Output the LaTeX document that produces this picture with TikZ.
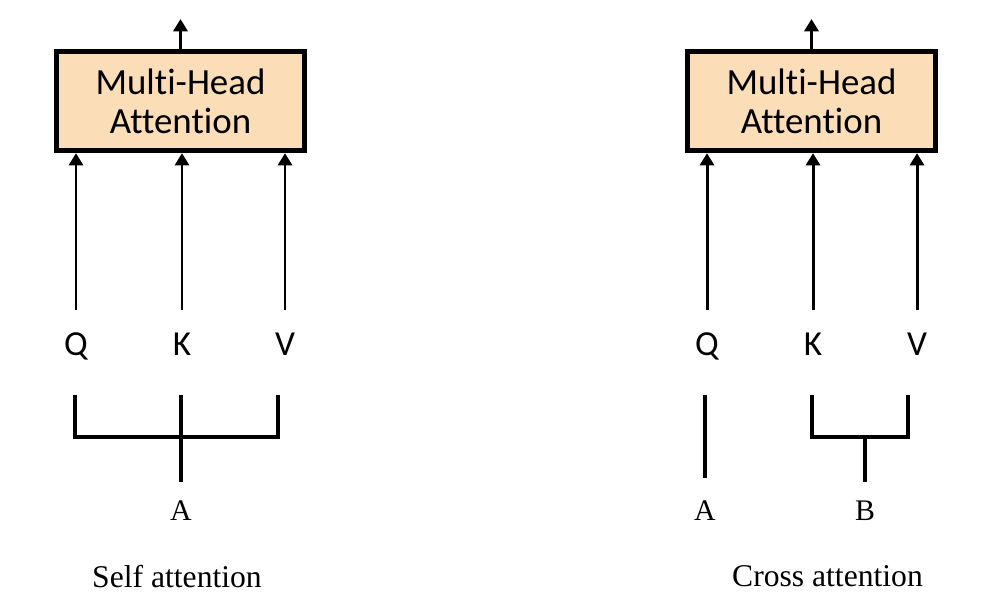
\documentclass[tikz,border=0pt]{standalone}
\usepackage{fontspec}
\setmainfont{Liberation Serif}
\newfontfamily\calibri[Ligatures=NoCommon]{Carlito}
\usepackage{tikz}
\usetikzlibrary{arrows.meta,positioning}
\definecolor{mhafill}{RGB}{251,221,184}

\begin{document}
\begin{tikzpicture}[
  x=0.02cm, y=-0.02cm,
  mha/.style={draw, line width=3pt, fill=mhafill, minimum width=4.96cm, minimum height=1.98cm,
    align=center, font=\calibri\fontsize{21}{22}\selectfont},
  qkv/.style={inner sep=0pt, anchor=base, font=\calibri\fontsize{20}{22}\selectfont},
  src/.style={inner sep=0pt, anchor=base, font=\fontsize{17}{19}\selectfont},
  caption/.style={inner sep=0pt, anchor=base, font=\fontsize{18}{20}\selectfont},
  flow/.style={-{Triangle[width=8pt,length=7pt]}, line width=1.7pt},
  bracket/.style={line width=2.6pt}
]
\useasboundingbox (0,0) rectangle (982,612);

% self attention
\node[mha] (mhaL) at (180.5,101) {Multi-Head\\Attention};
\coordinate (outL) at (180.5,19);
\draw[flow] (mhaL.north) -- (outL);
\node[qkv] (qL) at (76,355) {Q};
\node[qkv] (kL) at (182,355) {K};
\node[qkv] (vL) at (285,355) {V};
\foreach \n in {qL,kL,vL}
  \draw[flow] (\n.north) ++(0,-22) -- (\n |- mhaL.south);
\node[src] (aL) at (181,520) {A};
\draw[bracket] (75,395) -- (75,437) -- (278,437) -- (278,395);
\draw[bracket] (aL.north) ++(0,-18) -- (181,395);
\node[caption] (capL) at (177,587) {Self attention};

% cross attention
\node[mha] (mhaR) at (811.5,101) {Multi-Head\\Attention};
\coordinate (outR) at (811.5,19);
\draw[flow] (mhaR.north) -- (outR);
\node[qkv] (qR) at (707,355) {Q};
\node[qkv] (kR) at (813,355) {K};
\node[qkv] (vR) at (917,355) {V};
\foreach \n in {qR,kR,vR}
  \draw[flow] (\n.north) ++(0,-22) -- (\n |- mhaR.south);
\node[src] (aR) at (705,520) {A};
\node[src] (bR) at (865,520) {B};
\draw[bracket] (aR.north) ++(0,-22) -- (705,395);
\draw[bracket] (812,395) -- (812,437) -- (908,437) -- (908,395);
\draw[bracket] (bR.north) ++(0,-18) -- (865,437);
\node[caption] (capR) at (827.5,586) {Cross attention};
\end{tikzpicture}
\end{document}
